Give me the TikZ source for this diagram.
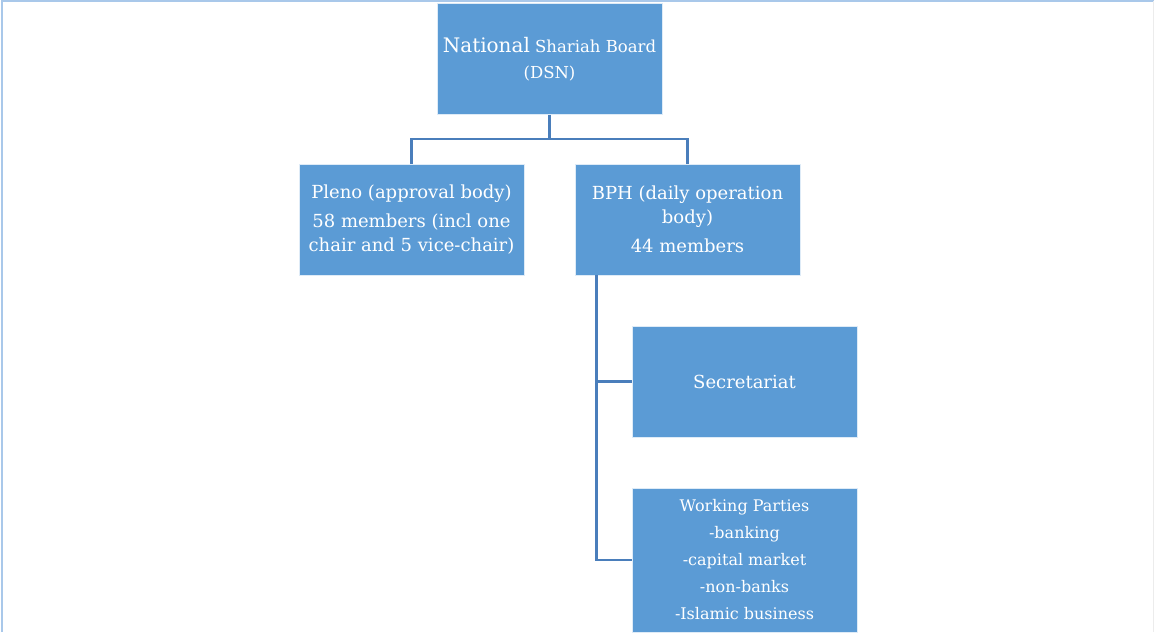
\documentclass[tikz,border=0pt]{standalone}
\usepackage{fontspec}
\setmainfont{DejaVu Serif}
\usetikzlibrary{positioning}
\definecolor{boxblue}{HTML}{5B9BD5}
\definecolor{linkblue}{HTML}{4A7EBB}
\definecolor{framblue}{HTML}{A9C8EA}

\begin{document}
\begin{tikzpicture}[x=1pt, y=-1pt,
        box/.style={fill=boxblue, draw=white!80!boxblue, line width=0.8pt,
                minimum width=225pt, minimum height=111pt, inner sep=2pt,
                text=white, align=center, font=\fontsize{18}{24}\selectfont},
        link/.style={draw=linkblue, line width=2.6pt}]
        \useasboundingbox (0,0) rectangle (1154,632);
        \clip (0,0) rectangle (1154,632);
        \draw[framblue, line width=2pt] (1.5,632) -- (1.5,1) -- (1154,1);
        \draw[gray!15, line width=1pt] (1153.5,1) -- (1153.5,632);

        \node[box, inner xsep=0pt, font=\fontsize{16.5}{26}\selectfont] (dsn) at (549.5,59) {{\fontsize{20}{26}\selectfont National} Shariah Board\\(DSN)};
        \node[box] (pleno) at (411.5,219.5) {Pleno (approval body)\\[5pt]58 members (incl one\\chair and 5 vice-chair)};
        \node[box] (bph) at (687.5,219.5) {BPH (daily operation\\body)\\[5pt]44 members};
        \node[box] (sec) at (744.5,381.5) {Secretariat};
        \node[box, minimum height=144pt, font=\fontsize{16}{27}\selectfont] (wp) at (744.5,560) {Working Parties\\-banking\\-capital market\\-non-banks\\-Islamic business};

        \coordinate (split) at ([yshift=-24pt]dsn.south);
        \coordinate (trunk) at ([xshift=22pt]bph.south west);
        \draw[link] (dsn.south) -- (split);
        \draw[link] (pleno.north) |- (split) -| (bph.north);
        \draw[link] (trunk) |- (sec.west);
        \draw[link] (trunk) |- (wp.west);
\end{tikzpicture}
\end{document}
